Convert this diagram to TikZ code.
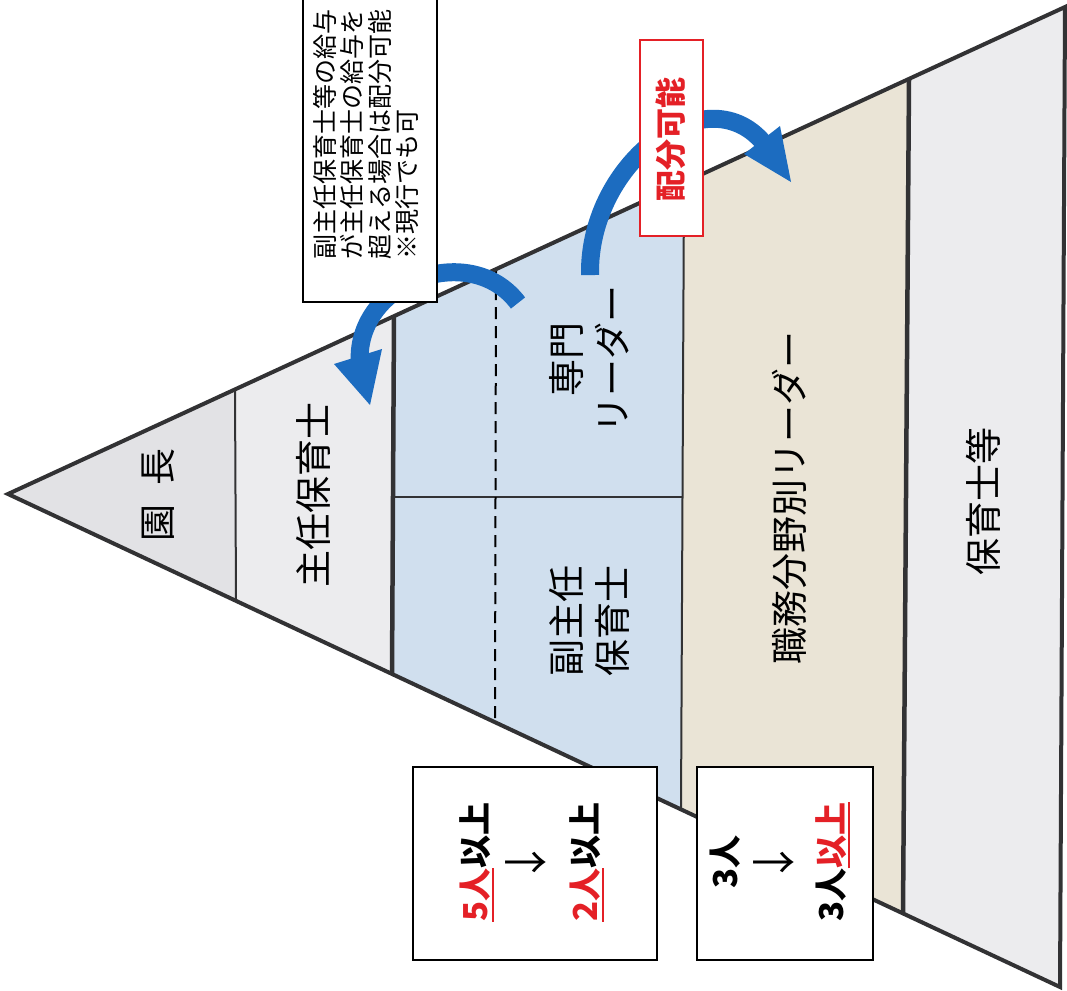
\documentclass[tikz,border=0pt]{standalone}
\usepackage{fontspec}
\setmainfont{Noto Sans CJK JP}
\definecolor{pyrgray}{RGB}{50,50,52}
\definecolor{fillA}{RGB}{226,226,229}
\definecolor{fillB}{RGB}{236,236,238}
\definecolor{fillBlue}{RGB}{208,223,238}
\definecolor{fillCream}{RGB}{234,228,214}
\definecolor{fillC}{RGB}{236,236,238}
\definecolor{arrowblue}{RGB}{28,108,192}
\definecolor{jred}{RGB}{228,32,38}
\newcommand{\myul}[1]{\setbox0\hbox{#1}\rlap{\color{jred}\rule[-6.5pt]{\wd0}{2.5pt}}\box0}
\newcommand{\bigdown}{{\mdseries\fontsize{44}{44}\selectfont ↓}}
\tikzset{
  pyrline/.style={draw=pyrgray, line width=4pt, line join=miter},
  thindiv/.style={draw=pyrgray, line width=2pt},
  thickdiv/.style={draw=pyrgray, line width=4.5pt},
  lbl/.style={rotate=90, inner sep=0pt, align=center, font=\fontsize{37}{46}\selectfont},
  notetxt/.style={rotate=90, inner sep=0pt, align=left, font=\fontsize{25}{27.5}\selectfont},
  numtxt/.style={rotate=90, inner sep=0pt, align=center, font=\bfseries\fontsize{33}{55}\selectfont},
  whitebox/.style={draw=black, line width=2pt, fill=white},
  redbox/.style={draw=jred, line width=2.5pt, fill=white},
  shaft/.style={draw=arrowblue, line width=18pt},
  tipfill/.style={fill=arrowblue},
}
\begin{document}
\begin{tikzpicture}[x=1pt,y=-1pt]
\useasboundingbox (0,0) rectangle (1067,990);
\fill[white] (0,0) rectangle (1067,990);
% key points
\coordinate (apex) at (8,494);
\coordinate (tr) at (1065,7);
\coordinate (br) at (1060,987);
\coordinate (d1t) at (235,389);
\coordinate (d1b) at (236,601);
\coordinate (d2t) at (394,316);
\coordinate (d2b) at (392,674);
\coordinate (d3t) at (684,183);
\coordinate (d3b) at (681,809);
\coordinate (d4t) at (909,79);
\coordinate (d4b) at (903,913);
\coordinate (hL) at (393,497);
\coordinate (hR) at (682,497);
\coordinate (dashT) at (496,269);
\coordinate (dashB) at (495,722);
% fills
\fill[fillA] (apex) -- (d1t) -- (d1b) -- cycle;
\fill[fillB] (d1t) -- (d2t) -- (d2b) -- (d1b) -- cycle;
\fill[fillBlue] (d2t) -- (d3t) -- (d3b) -- (d2b) -- cycle;
\fill[fillCream] (d3t) -- (d4t) -- (d4b) -- (d3b) -- cycle;
\fill[fillC] (d4t) -- (tr) -- (br) -- (d4b) -- cycle;
% dividers
\draw[thindiv] (d1t) -- (d1b);
\draw[thindiv] (d3t) -- (d3b);
\draw[thindiv] (hL) -- (hR);
\draw[draw=black, line width=2pt, dash pattern=on 12pt off 7pt] (dashT) -- (dashB);
\draw[thickdiv] (d2t) -- (d2b);
\draw[thickdiv] (d4t) -- (d4b);
\draw[pyrline] (apex) -- (tr) -- (br) -- cycle;
% blue arrows
\coordinate (aS) at (518,303);
\coordinate (aE) at (360,366);
\draw[shaft] (aS) .. controls (470,239) and (352,282) .. (aE);
\fill[tipfill] (334,364) -- (382,349) -- (370,405) -- cycle;
\coordinate (bS) at (590,275);
\coordinate (bE) at (766,146);
\draw[shaft] (bS) .. controls (588,160) and (710,72) .. (bE);
\fill[tipfill] (744,154) -- (780,126) -- (791,182) -- cycle;
% boxes
\draw[whitebox] (303,-5) rectangle (437,302);
\node[notetxt] (note) at (366,134) {副主任保育士等の給与\\が主任保育士の給与を\\超える場合は配分可能\\※現行でも可};
\draw[redbox] (640,40) rectangle (703,236);
\node[rotate=90, inner sep=0pt, font=\bfseries\fontsize{31}{31}\selectfont, text=jred] (haibun) at (671,139) {配分可能};
\draw[whitebox] (413,767) rectangle (657,960);
\node[numtxt] (five) at (532,862) {\textcolor{jred}{\myul{5人}}以上\\\bigdown\\\textcolor{jred}{\myul{2人}}以上};
\draw[whitebox] (697,767) rectangle (873,960);
\node[numtxt, font=\bfseries\fontsize{33}{53}\selectfont] (three) at (780,862) {3人\\\bigdown\\3人\textcolor{jred}{\myul{以上}}};
% labels
\node[lbl] (encho) at (158,495) {園\hspace{0.5em}長};
\node[lbl] (shunin) at (313,495) {主任保育士};
\node[lbl] (senmon) at (589,359) {専門\\リーダー};
\node[lbl] (fuku) at (589,621) {副主任\\保育士};
\node[lbl] (shokumu) at (789,498) {職務分野別リーダー};
\node[lbl] (hoiku) at (983,501) {保育士等};
\end{tikzpicture}
\end{document}
